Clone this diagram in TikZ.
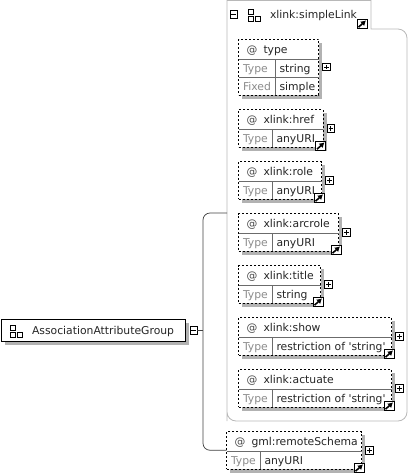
\documentclass[tikz,border=0pt]{standalone}
\usepackage{fontspec}
\setmainfont{DejaVu Sans}
\usetikzlibrary{arrows.meta,positioning,shadows}
\definecolor{shadowgray}{gray}{0.7}
\definecolor{framegray}{gray}{0.72}
\definecolor{cellgray}{gray}{0.42}
\definecolor{labelgray}{gray}{0.55}
\newcommand{\schemaAttr}[8]{%
  \node[attrbox, minimum width=#5pt, minimum height=#6pt] (#1) at (#3,#4) {};
  \draw[cellline] ([yshift=-20pt]#1.north west) -- ([yshift=-20pt]#1.north east);
  \draw[cellline] ([xshift=#7pt,yshift=-20pt]#1.north west) -- ([xshift=#7pt]#1.south west);
  \node[atsign] (#1At) at ([xshift=8pt,yshift=-14pt]#1.north west) {@};
  \node[body] (#1Name) at ([xshift=25pt,yshift=-14pt]#1.north west) {#2};
  \node[muted] (#1Type) at ([xshift=4.5pt,yshift=-33pt]#1.north west) {Type};
  \node[body] (#1Value) at ([xshift=#7pt+4pt,yshift=-33pt]#1.north west) {#8};
  \node[plusbox, right=4pt of #1] (#1Plus) {};
}
\newcommand{\schemaLink}[1]{%
  \node[linkicon] (#1Link) at ([xshift=-2.5pt,yshift=1pt]#1.south east) {};
}
\begin{document}
\begin{tikzpicture}[
  x=1pt, y=-1pt, font=\fontsize{10.8}{12}\selectfont,
  every node/.style={outer sep=0pt},
  body/.style={anchor=base west, inner sep=0pt, text=black!85},
  muted/.style={body, text=labelgray},
  atsign/.style={body, text=black!70},
  attrbox/.style={anchor=north west, draw, fill=white, inner sep=0pt,
    line width=0.8pt, dash pattern=on 2pt off 2pt,
    drop shadow={shadow xshift=3.5pt, shadow yshift=-3.5pt, fill=shadowgray, opacity=1}},
  groupbox/.style={anchor=north west, draw, fill=white, inner sep=0pt, line width=0.9pt,
    drop shadow={shadow xshift=4pt, shadow yshift=-4pt, fill=shadowgray, opacity=1}},
  cellline/.style={draw=cellgray, line width=0.7pt},
  frame/.style={draw=framegray, line width=0.8pt},
  connector/.style={draw=black!75, line width=0.7pt},
  plusbox/.style={draw, fill=white, minimum size=7.5pt, inner sep=0pt, line width=0.6pt,
    path picture={\draw[line width=0.6pt]
      ([xshift=1.5pt]path picture bounding box.west) -- ([xshift=-1.5pt]path picture bounding box.east)
      ([yshift=-1.5pt]path picture bounding box.north) -- ([yshift=1.5pt]path picture bounding box.south);}},
  minusbox/.style={draw, fill=white, minimum size=7.5pt, inner sep=0pt, line width=0.6pt,
    path picture={\draw[line width=0.6pt]
      ([xshift=1.5pt]path picture bounding box.west) -- ([xshift=-1.5pt]path picture bounding box.east);}},
  linkicon/.style={draw, fill=white, minimum width=10pt, minimum height=9.5pt, inner sep=0pt,
    line width=0.9pt,
    path picture={\draw[line width=1.6pt, -{Latex[length=5pt,width=6pt]}]
      ([shift={(-3.5pt,-3.2pt)}]path picture bounding box.center) --
      ([shift={(4pt,3.6pt)}]path picture bounding box.center);}},
  groupicon/.style={minimum size=14pt, inner sep=0pt,
    path picture={\draw[line width=0.7pt]
      ([shift={(-6.3pt,0.8pt)}]path picture bounding box.center) rectangle +(5pt,5.3pt)
      ([shift={(-6.3pt,-6.2pt)}]path picture bounding box.center) rectangle +(5pt,5pt)
      ([shift={(0.8pt,-6.2pt)}]path picture bounding box.center) rectangle +(5.3pt,5pt);}}]
\useasboundingbox (0,0) rectangle (409,475);
% connectors from the group to its members
\node[groupbox, minimum width=184pt, minimum height=22pt] (group) at (1,319) {};
\node[groupicon] (groupIcon) at (16.5,331.5) {};
\node[body] (groupName) at (32,334) {AssociationAttributeGroup};
\node[minusbox] (groupMinus) at (193.7,330.5) {};
\coordinate (trunk) at (203,330.5);
\coordinate (frameTap) at (227,213);
\draw[frame] (227,421) -- (227,0.5) -- (371,0.5) -- (371,29)
  [rounded corners=9pt] -- (407,29) -- (407,421) -- (227,421) [sharp corners] -- cycle;
% inner attribute group
\node[minusbox] (linkMinus) at (233.7,14.5) {};
\node[groupicon] (linkIcon) at (254.5,15.5) {};
\node[body] (linkName) at (270,18) {xlink:simpleLink};
\node[linkicon] (linkRef) at (362,24) {};
\schemaAttr{type}{type}{238.5}{39}{80}{56}{37}{string}
\draw[cellline] ([yshift=-38pt]type.north west) -- ([yshift=-38pt]type.north east);
\node[muted] (typeFixed) at ([xshift=4.5pt,yshift=-51pt]type.north west) {Fixed};
\node[body] (typeSimple) at ([xshift=41pt,yshift=-51pt]type.north west) {simple};
\schemaAttr{href}{xlink:href}{238.5}{109.5}{84.5}{37.5}{34}{anyURI}
\schemaLink{href}
\schemaAttr{role}{xlink:role}{238.5}{161.5}{83}{37.5}{34}{anyURI}
\schemaLink{role}
\schemaAttr{arcrole}{xlink:arcrole}{238.5}{213.5}{100}{37.5}{34}{anyURI}
\schemaLink{arcrole}
\schemaAttr{title}{xlink:title}{238.5}{265.5}{82}{37.5}{34}{string}
\schemaLink{title}
\schemaAttr{show}{xlink:show}{238.5}{317.5}{153}{37.5}{34}{restriction of \textquotesingle string\textquotesingle}
\schemaLink{show}
\schemaAttr{actuate}{xlink:actuate}{238.5}{369.5}{153}{37.5}{34}{restriction of \textquotesingle string\textquotesingle}
\schemaLink{actuate}
\schemaAttr{remote}{gml:remoteSchema}{226.5}{431.5}{135}{37.5}{34}{anyURI}
\schemaLink{remote}
\draw[connector] (groupMinus.east) -- (trunk);
\draw[connector, rounded corners=7pt] (frameTap) -| (trunk) |- (remote.west);
\end{tikzpicture}
\end{document}
